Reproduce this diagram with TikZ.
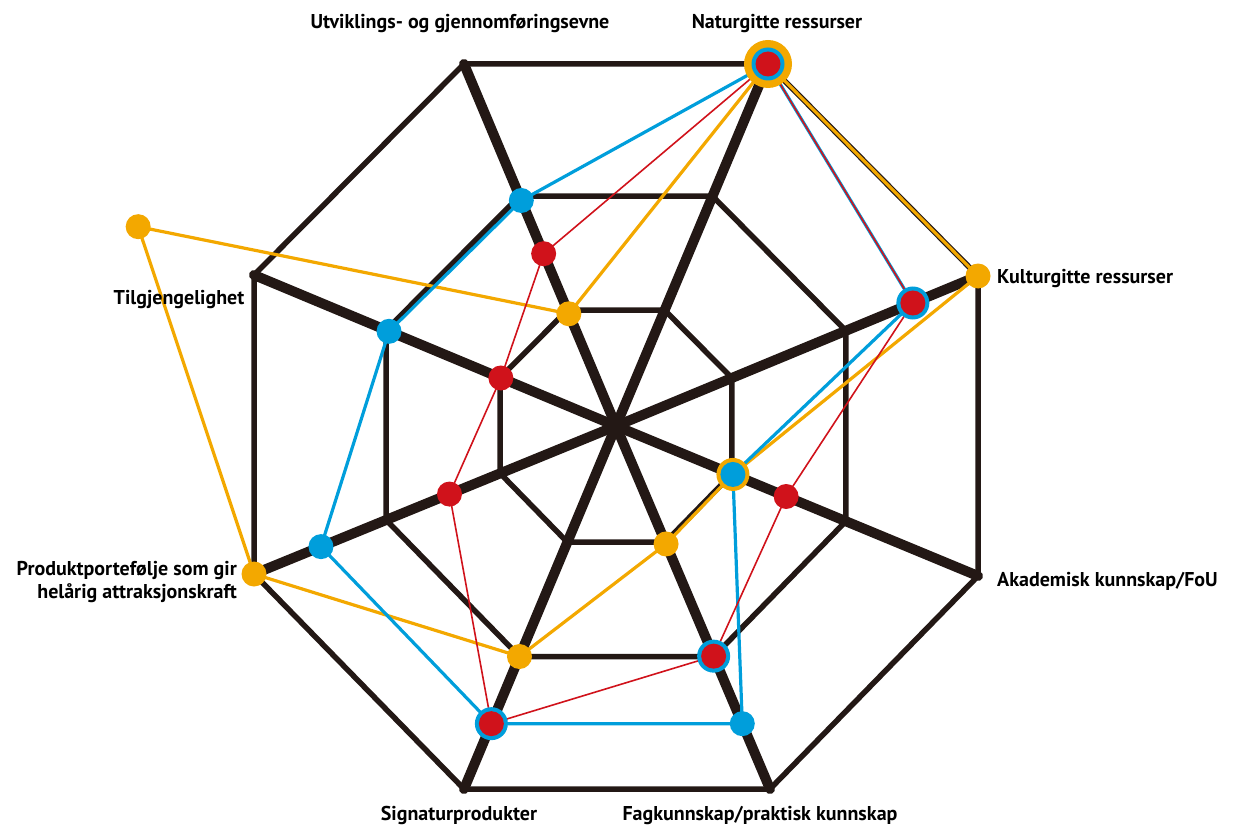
\documentclass[tikz,border=0pt]{standalone}
\usepackage{fontspec}
\setmainfont{PT Sans}
\usetikzlibrary{calc}
\definecolor{blk}{RGB}{35,24,21}
\definecolor{org}{RGB}{243,168,0}
\definecolor{blu}{RGB}{0,158,219}
\definecolor{rd}{RGB}{208,18,27}
\tikzset{
  spoke/.style={line width=10pt, draw=blk, line cap=round},
  ring/.style={line width=5.5pt, draw=blk, line join=round},
  lab/.style={font=\bfseries\fontsize{20}{23}\selectfont, inner sep=0pt, text=black},
  oline/.style={draw=org, line width=3.2pt, line join=round},
  bline/.style={draw=blu, line width=3.2pt, line join=round},
  rline/.style={draw=rd, line width=1.6pt, line join=round},
  pt/.style={circle, inner sep=0pt, minimum size=25pt, fill=#1},
  bigpt/.style={circle, inner sep=0pt, minimum size=33pt, fill=#1},
  hugept/.style={circle, inner sep=0pt, minimum size=48pt, fill=#1},
}
\begin{document}
\begin{tikzpicture}[x=1pt,y=-1pt]
\useasboundingbox (0,0) rectangle (1238,826);
\coordinate (C) at (616,426);
\coordinate (o1) at (464,64);
\coordinate (o2) at (768,64);
\coordinate (o3) at (978,276);
\coordinate (o4) at (978,576);
\coordinate (o5) at (770,789);
\coordinate (o6) at (464,789);
\coordinate (o7) at (254,574);
\coordinate (o8) at (254,275);
\foreach \k in {1,...,8}{
  \coordinate (m\k) at ($(C)!0.635!(o\k)$);
  \coordinate (i\k) at ($(C)!0.32!(o\k)$);
}
% grid
\draw[ring] (o1)--(o2)--(o3)--(o4)--(o5)--(o6)--(o7)--(o8)--cycle;
\draw[ring] (m1)--(m2)--(m3)--(m4)--(m5)--(m6)--(m7)--(m8)--cycle;
\draw[ring] (i1)--(i2)--(i3)--(i4)--(i5)--(i6)--(i7)--(i8)--cycle;
\foreach \k in {1,...,8}{ \draw[spoke] (C) -- (o\k); }
% series points
\foreach \k/\f in {1/0.31,2/1,3/1,4/0.323,5/0.325,6/0.635,7/1,8/1.32}{
  \coordinate (O\k) at ($(C)!\f!(o\k)$);
}
\foreach \k/\f in {1/0.623,2/1,3/0.82,4/0.323,5/0.82,6/0.82,7/0.815,8/0.627}{
  \coordinate (B\k) at ($(C)!\f!(o\k)$);
}
\foreach \k/\f in {1/0.476,2/1,3/0.82,4/0.47,5/0.634,6/0.82,7/0.46,8/0.318}{
  \coordinate (R\k) at ($(C)!\f!(o\k)$);
}
% connectors
\draw[oline] (O1)--(O2)--(O3)--(O4)--(O5)--(O6)--(O7)--(O8)--cycle;
\draw[bline] (B1)--(B2)--(B3)--(B4)--(B5)--(B6)--(B7)--(B8)--cycle;
\draw[rline] (R1)--(R2)--(R3)--(R4)--(R5)--(R6)--(R7)--(R8)--cycle;
% dots
\node[hugept=org] (dO2) at (O2) {};
\node[bigpt=org] (dO4) at (O4) {};
\foreach \k in {1,3,5,6,7,8}{ \node[pt=org] (dO\k) at (O\k) {}; }
\foreach \k in {2,3,6}{ \node[bigpt=blu] (dB\k) at (B\k) {}; }
\node[bigpt=blu] (dBx) at (R5) {};
\foreach \k in {1,4,5,7,8}{ \node[pt=blu] (dB\k) at (B\k) {}; }
\foreach \k in {1,...,8}{ \node[pt=rd] (dR\k) at (R\k) {}; }
% labels
\node[lab, anchor=base] (l1) at (460,29) {Utviklings- og gjennomføringsevne};
\node[lab, anchor=base] (l2) at (777,29) {Naturgitte ressurser};
\node[lab, anchor=base west] (l3) at (997,283) {Kulturgitte ressurser};
\node[lab, anchor=base west] (l4) at (997,586) {Akademisk kunnskap/FoU};
\node[lab, anchor=base] (l5) at (760,820) {Fagkunnskap/praktisk kunnskap};
\node[lab, anchor=base] (l6) at (459,820) {Signaturprodukter};
\node[lab, anchor=base east] (l7a) at (237,575) {Produktportefølje som gir};
\node[lab, anchor=base east] (l7b) at (237,598) {helårig attraksjonskraft};
\node[lab, anchor=base] (l8) at (179,304) {Tilgjengelighet};
\end{tikzpicture}
\end{document}
